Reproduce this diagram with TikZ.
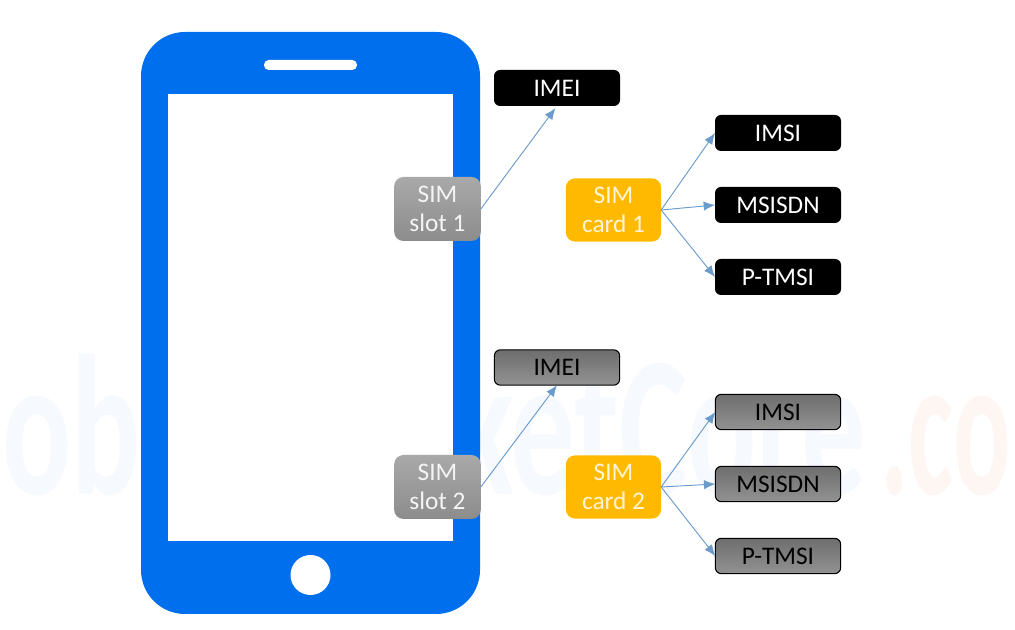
\documentclass[tikz,border=0pt]{standalone}
\usepackage{graphicx}
\usepackage{fontspec}
\setmainfont{Carlito}
\usetikzlibrary{arrows.meta}
\definecolor{phoneblue}{HTML}{006FEE}
\definecolor{simyellow}{HTML}{FFBA00}
\definecolor{arrowblue}{HTML}{6A9BCB}
\definecolor{wmblue}{HTML}{F6F9FE}
\definecolor{wmred}{HTML}{FEF6F3}
\definecolor{greytop}{HTML}{6E6E6E}
\definecolor{greybot}{HTML}{929292}
\definecolor{slottop}{HTML}{A9A9A9}
\definecolor{slotbot}{HTML}{8C8C8C}
\definecolor{slottext}{HTML}{F4F4F4}
\definecolor{cardtext}{HTML}{FFF4D6}
\tikzset{
  x=0.75pt,y=-0.75pt,
  every node/.style={font=\fontsize{19}{22}\selectfont,align=center,inner sep=0pt,outer sep=0pt},
  blackbox/.style={fill=black,text=white,rounded corners=4.5pt,minimum width=94.5pt,minimum height=27pt},
  greybox/.style={draw=black,line width=0.8pt,top color=greytop,bottom color=greybot,text=black,rounded corners=4.5pt,minimum width=94pt,minimum height=26.5pt},
  slotbox/.style={top color=slottop,bottom color=slotbot,text=slottext,rounded corners=7pt,minimum width=65pt,minimum height=48pt},
  cardbox/.style={fill=simyellow,text=cardtext,rounded corners=7pt,minimum width=71.5pt,minimum height=47.5pt},
  link/.style={draw=arrowblue,line width=0.7pt,-{Latex[length=8.5pt,width=7pt]}},
  watermark/.style={font=\fontsize{150}{150}\selectfont\bfseries,anchor=base west}
}
\begin{document}
\begin{tikzpicture}
\useasboundingbox (0,0) rectangle (1015,630);
\node[watermark,text=wmblue] (wma) at (2,495) {\resizebox{648pt}{\height}{obilePacketCore}};
\node[watermark,text=wmred] (wmb) at (880,495) {\resizebox{98pt}{\height}{.co}};
% phone
\fill[phoneblue,rounded corners=33pt] (141,32) rectangle (480,614);
\fill[white] (168,94) rectangle (453,541);
\fill[white,rounded corners=3.5pt] (264,60) rectangle (357,70);
\fill[white] (310.5,575) circle[radius=15pt];
% boxes
\node[blackbox] (imeia) at (557,88) {IMEI};
\node[slotbox] (slota) at (437.5,209) {SIM\\slot 1};
\node[cardbox] (carda) at (613.5,210) {SIM\\card 1};
\node[blackbox] (imsia) at (778,133) {IMSI};
\node[blackbox] (msisdna) at (778,205) {MSISDN};
\node[blackbox] (ptmsia) at (778,277) {P-TMSI};
\node[greybox] (imeib) at (557,367.5) {IMEI};
\node[slotbox] (slotb) at (437.5,487) {SIM\\slot 2};
\node[cardbox] (cardb) at (613.5,487) {SIM\\card 2};
\node[greybox] (imsib) at (778,412) {IMSI};
\node[greybox] (msisdnb) at (778,484) {MSISDN};
\node[greybox] (ptmsib) at (778,556) {P-TMSI};
% connectors
\draw[link,shorten >=2pt] (slota.east) -- (imeia.south);
\draw[link] (slotb.east) -- (imeib.south);
\foreach \c/\t in {carda/imsia,carda/msisdna,carda/ptmsia,cardb/imsib,cardb/msisdnb,cardb/ptmsib}
  \draw[link] (\c.east) -- (\t.west);
\end{tikzpicture}
\end{document}
